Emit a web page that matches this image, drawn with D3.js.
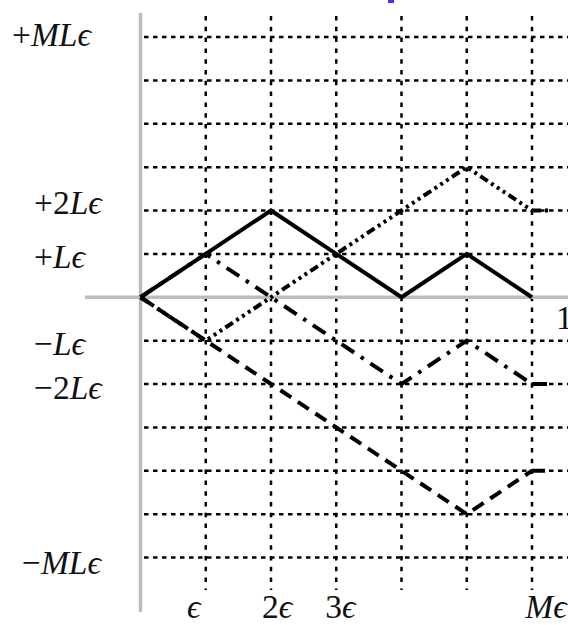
<!DOCTYPE html>
<html>
<head>
<meta charset="utf-8">
<script src="https://cdn.jsdelivr.net/npm/d3@7"></script>
<style>
  html, body { margin: 0; padding: 0; background: #fff; }
  svg { display: block; }
  text { font-family: "Liberation Serif", "DejaVu Serif", serif; fill: #111; }
</style>
</head>
<body>
<div id="chart"></div>
<script>
// ---- data ----
const steps = [0, 1, 2, 3, 4, 5, 6];          // x in units of epsilon
const solidPath   = [0, 1, 2, 1, 0, 1, 0];    // y in units of L*epsilon
const dashDotPath = [0, 1, 0, -1, -2, -1, -2];
const dottedPath  = [0, -1, 0, 1, 2, 3, 2];
const dashedPath  = [0, -1, -2, -3, -4, -5, -4];
const stubEnd = 6.25;                          // short continuation past M*epsilon

const gridXValues = [1, 2, 3, 4, 5, 6];
const gridYValues = [-6, -5, -4, -3, -2, -1, 1, 2, 3, 4, 5, 6];

const yTickValues = [6, 2, 1, -1, -2, -6];
const yTickLabels = ["+MLϵ", "+2Lϵ", "+Lϵ", "−Lϵ", "−2Lϵ", "−MLϵ"];
const xTickValues = [1, 2, 3, 6];
const xTickLabels = ["ϵ", "2ϵ", "3ϵ", "Mϵ"];
const xEndLabel = "1";

// ---- layout ----
const W = 568, H = 625;
const x = d3.scaleLinear().domain([0, 6]).range([140.5, 532]);
const y = d3.scaleLinear().domain([-6, 6]).range([557.5, 37]);

const svg = d3.select("#chart").append("svg").attr("width", W).attr("height", H);

// small blue remnant at top
svg.append("rect").attr("x", 388).attr("y", 0).attr("width", 6).attr("height", 3).attr("fill", "#3a3ad0");

// grid
const grid = svg.append("g");
grid.selectAll("line.gx").data(gridXValues).join("line")
  .attr("x1", d => x(d)).attr("x2", d => x(d))
  .attr("y1", 16).attr("y2", 590)
  .attr("stroke", "#000").attr("stroke-width", 2.5)
  .attr("stroke-dasharray", "4.5,6.3");
grid.selectAll("line.gy").data(gridYValues).join("line")
  .attr("x1", 144).attr("x2", W)
  .attr("y1", d => y(d)).attr("y2", d => y(d))
  .attr("stroke", "#000").attr("stroke-width", 2.5)
  .attr("stroke-dasharray", "4.5,4.5");

// axes (gray)
svg.append("line").attr("x1", x(0)).attr("x2", x(0)).attr("y1", 13).attr("y2", 612)
  .attr("stroke", "#bcbcbc").attr("stroke-width", 3.5);
svg.append("line").attr("x1", 85).attr("x2", W).attr("y1", y(0)).attr("y2", y(0))
  .attr("stroke", "#bcbcbc").attr("stroke-width", 3.5);

// series
const line = d3.line().x(d => x(d[0])).y(d => y(d[1]));
const series = [
  { vals: dashedPath,  dash: "13,8",                      stub: true },
  { vals: dottedPath,  dash: "9,4,3,4,3,4,3,4",           stub: true },
  { vals: dashDotPath, dash: "15,8,3.5,8",                stub: true },
  { vals: solidPath,   dash: null,                        stub: false }
];
series.forEach(s => {
  const pts = steps.map((t, i) => [t, s.vals[i]]);
  svg.append("path").attr("d", line(pts))
    .attr("fill", "none").attr("stroke", "#000").attr("stroke-width", 4)
    .attr("stroke-linejoin", "miter")
    .attr("stroke-dasharray", s.dash);
  if (s.stub) {
    const last = s.vals[s.vals.length - 1];
    svg.append("path").attr("d", line([[6, last], [stubEnd, last]]))
      .attr("fill", "none").attr("stroke", "#000").attr("stroke-width", 4)
      .attr("stroke-dasharray", s.dash);
  }
});

// label helper: letters italic, digits/signs upright
function richText(sel, str) {
  for (const ch of str) {
    const it = /[A-Za-zϵ]/.test(ch);
    sel.append("tspan").text(ch).attr("font-style", it ? "italic" : "normal");
  }
}

// y tick labels
const yOffsets = { "+MLϵ": [-22, -2], "+2Lϵ": [0, -8], "+Lϵ": [0, 3], "−Lϵ": [0, 3], "−2Lϵ": [0, 4], "−MLϵ": [-12, 5] };
yTickValues.forEach((v, i) => {
  const lab = yTickLabels[i];
  const off = yOffsets[lab] || [0, 0];
  const t = svg.append("text")
    .attr("x", 34 + off[0]).attr("y", y(v) + off[1] + 11)
    .attr("font-size", 33.5).attr("text-anchor", "start");
  richText(t, lab);
});

// x tick labels
const xOffsets = [-12, 6, 4, 14];
xTickValues.forEach((v, i) => {
  const t = svg.append("text")
    .attr("x", x(v) + xOffsets[i]).attr("y", 618)
    .attr("font-size", 33.5).attr("text-anchor", "middle");
  richText(t, xTickLabels[i]);
});

// "1" at end of x axis (partly cut off)
svg.append("text").attr("x", 556).attr("y", 329).attr("font-size", 33.5).text(xEndLabel);
</script>
</body>
</html>
